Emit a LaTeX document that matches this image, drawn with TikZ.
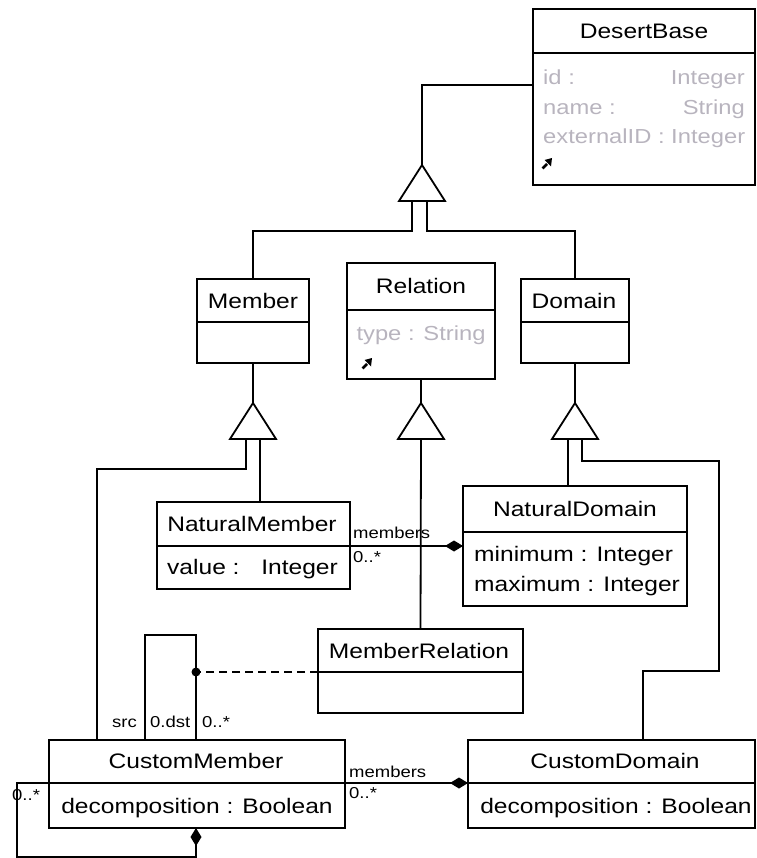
\documentclass[tikz,border=0pt]{standalone}
\usepackage{fontspec}
\setmainfont{Liberation Sans}[FakeStretch=1.17]
\usetikzlibrary{arrows.meta}
\definecolor{attrgray}{RGB}{184,180,190}

\begin{document}
\begin{tikzpicture}[x=1pt,y=-1pt,
  umlbox/.style={draw, line width=1.8pt, inner sep=0pt, outer sep=0pt, anchor=north west},
  conn/.style={line width=1.8pt},
  agg/.style={conn, -{Diamond[length=18pt,width=11pt]}},
  lbl/.style={font=\fontsize{21}{24}\selectfont, inner sep=0pt, anchor=base},
  attr/.style={font=\fontsize{20.3}{24}\selectfont, inner sep=0pt, anchor=base, text=attrgray},
  small/.style={font=\fontsize{15.8}{18}\selectfont, inner sep=0pt, anchor=base west},
  genhead/.pic={\draw[conn, fill=white, line join=miter] (0,0) -- (-23,36) -- (23,36) -- cycle;},
  navarrow/.pic={\draw[line width=2.6pt] (0.5,-0.5) -- (5,-5);
                 \fill (10,-11) -- (2.5,-9) -- (9,-2.5) -- cycle;}]
\useasboundingbox (0,0) rectangle (756,858);

% ---------- class boxes ----------
\node[umlbox, minimum width=222pt, minimum height=176pt] (desert)  at (533,9)   {};
\node[umlbox, minimum width=112pt, minimum height=84pt]  (member)  at (197,279) {};
\node[umlbox, minimum width=148pt, minimum height=116pt] (relation) at (347,263) {};
\node[umlbox, minimum width=108pt, minimum height=84pt]  (domain)  at (521,279) {};
\node[umlbox, minimum width=193pt, minimum height=87pt]  (nmember) at (157,502) {};
\node[umlbox, minimum width=224pt, minimum height=120pt] (ndomain) at (463,486) {};
\node[umlbox, minimum width=205pt, minimum height=84pt]  (mrel)    at (318,629) {};
\node[umlbox, minimum width=296pt, minimum height=88pt]  (cmember) at (49,740)  {};
\node[umlbox, minimum width=287pt, minimum height=88pt]  (cdomain) at (468,740) {};

% compartment dividers
\draw[conn] (desert.west |- 0,53)   -- (desert.east |- 0,53);
\draw[conn] (member.west |- 0,322)  -- (member.east |- 0,322);
\draw[conn] (relation.west |- 0,310) -- (relation.east |- 0,310);
\draw[conn] (domain.west |- 0,322)  -- (domain.east |- 0,322);
\draw[conn] (nmember.west |- 0,546) -- (nmember.east |- 0,546);
\draw[conn] (ndomain.west |- 0,532) -- (ndomain.east |- 0,532);
\draw[conn] (mrel.west |- 0,672)    -- (mrel.east |- 0,672);
\draw[conn] (cmember.west |- 0,783) -- (cmember.east |- 0,783);
\draw[conn] (cdomain.west |- 0,783) -- (cdomain.east |- 0,783);

% ---------- class texts ----------
\node[lbl] (desert-t) at (644,38.5) {DesertBase};
\node[attr, anchor=base west] (desert-a1) at (543,85)    {id :};
\node[attr, anchor=base east] (desert-a1t) at (745,85)   {Integer};
\node[attr, anchor=base west] (desert-a2) at (543,114.5) {name :};
\node[attr, anchor=base east] (desert-a2t) at (745,114.5) {String};
\node[attr, anchor=base west] (desert-a3) at (543,144)   {externalID : Integer};
\pic at (542,169) {navarrow};

\node[lbl] (member-t) at (253,308) {Member};

\node[lbl] (relation-t) at (421,294) {Relation};
\node[attr] (relation-a1) at (421,340) {type : String};
\pic at (362,369) {navarrow};

\node[lbl] (domain-t) at (574,308) {Domain};

\node[lbl] (nmember-t) at (252,531.5) {NaturalMember};
\node[lbl, anchor=base west] (nmember-a1) at (167,574) {value :};
\node[lbl, anchor=base east] (nmember-a1t) at (338,574) {Integer};

\node[lbl] (ndomain-t) at (575,516.5) {NaturalDomain};
\node[lbl, anchor=base west] (ndomain-a1) at (474,561) {minimum : Integer};
\node[lbl, anchor=base west] (ndomain-a2) at (474,591) {maximum : Integer};

\node[lbl] (mrel-t) at (419,658) {MemberRelation};

\node[lbl] (cmember-t) at (196,768) {CustomMember};
\node[lbl] (cmember-a1) at (197,813) {decomposition : Boolean};

\node[lbl] (cdomain-t) at (615,768.5) {CustomDomain};
\node[lbl] (cdomain-a1) at (616,813) {decomposition : Boolean};

% ---------- generalisation heads ----------
\coordinate (tTop) at (422,165);
\coordinate (tTop-l) at (412,201);
\coordinate (tTop-r) at (427,201);
\coordinate (tMem) at (253,403);
\coordinate (tMem-l) at (246,439);
\coordinate (tMem-r) at (260,439);
\coordinate (tRel) at (421,403);
\coordinate (tRel-b) at (421,439);
\coordinate (tDom) at (575,403);
\coordinate (tDom-l) at (568,439);
\coordinate (tDom-r) at (582,439);

% DesertBase <- Member, Domain
\draw[conn] (desert.west |- 0,85) -| (tTop);
\draw[conn] (tTop-l) -- ++(0,30) -| (member.north);
\draw[conn] (tTop-r) -- ++(0,30) -| (domain.north);
\pic at (tTop) {genhead};

% Member <- NaturalMember, CustomMember
\coordinate (cmember-in) at (cmember.north -| 97,0);
\draw[conn] (member.south) -- (tMem);
\draw[conn] (tMem-l) -- ++(0,30) -| (cmember-in);
\draw[conn] (tMem-r) -- (tMem-r |- nmember.north);
\pic at (tMem) {genhead};

% Relation <- MemberRelation
\draw[conn] (relation.south) -- (tRel);
\draw[conn] (tRel-b) -- (mrel.north);
\pic at (tRel) {genhead};

% Domain <- NaturalDomain, CustomDomain
\coordinate (cdomain-in) at (cdomain.north -| 643,0);
\draw[conn] (domain.south) -- (tDom);
\draw[conn] (tDom-l) -- (tDom-l |- ndomain.north);
\draw[conn] (tDom-r) |- (719,461) -- (719,671) -| (cdomain-in);
\pic at (tDom) {genhead};

% ---------- associations ----------
\draw[agg] (nmember.east |- 0,546) -- (ndomain.west |- 0,546);
\node[small] (nm-role) at (353,538) {members};
\node[small] (nm-mult) at (353,562) {0..*};

\draw[agg] (cmember.east |- 0,783) -- (cdomain.west |- 0,783);
\node[small] (cm-role) at (349,777) {members};
\node[small] (cm-mult) at (349,798) {0..*};

% src / dst self association with its association class
\coordinate (src-in) at (cmember.north -| 145,0);
\coordinate (dst-in) at (cmember.north -| 196,0);
\coordinate (relDot) at (196,672);
\draw[conn] (src-in) |- (196,635) -- (dst-in);
\draw[conn, dash pattern=on 8pt off 5pt] (mrel.west |- relDot) -- (relDot);
\fill (relDot) circle (4.5pt);
\node[small] (src-role) at (112,727) {src};
\node[small] (dst-role) at (150,727) {0.dst};
\node[small] (dst-mult) at (202,727) {0..*};

% decomposition loop on CustomMember
\coordinate (loop-in) at (cmember.south -| 196,0);
\draw[agg] (cmember.west |- 0,783) -- (17,783) -- (17,857) -- (196,857) -- (loop-in);
\node[small] (loop-mult) at (12,800) {0..*};

\end{tikzpicture}
\end{document}
